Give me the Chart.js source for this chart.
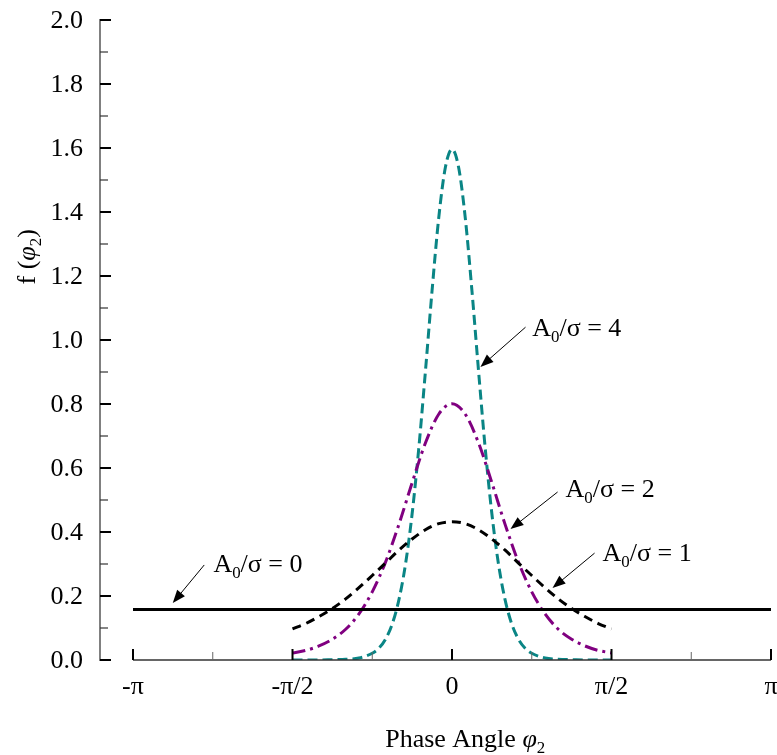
<!DOCTYPE html>
<html>
<head>
<meta charset="utf-8">
<script src="https://cdn.jsdelivr.net/npm/chart.js@4.4.1/dist/chart.umd.min.js"></script>
<style>
	body { margin: 0; background: #fff; }
	#wrap { width: 777px; height: 755px; }
</style>
</head>
<body>
<div id="wrap"><canvas id="phaseChart" width="777" height="755"></canvas></div>
<script>

	/* ================= Data ================= */

	// phase positions in units of pi/24
	var phaseSteps = [-12, -11, -10, -9, -8, -7, -6, -5, -4, -3, -2, -1, 0, 1, 2, 3, 4, 5, 6, 7, 8, 9, 10, 11, 12];
	var phaseStepsFine = [-12, -11, -10, -9, -8, -7, -6, -5.5, -5, -4.5, -4, -3.5, -3, -2.5, -2, -1.5, -1, -0.5, 0,
		0.5, 1, 1.5, 2, 2.5, 3, 3.5, 4, 4.5, 5, 5.5, 6, 7, 8, 9, 10, 11, 12];

	var flatX = [-24, 24];
	var flatY = [0.158, 0.158];

	var ratio1Y = [0.097, 0.114, 0.136, 0.161, 0.191, 0.226, 0.264, 0.303, 0.343, 0.378, 0.407, 0.426, 0.432,
		0.426, 0.407, 0.378, 0.343, 0.303, 0.264, 0.226, 0.191, 0.161, 0.136, 0.114, 0.097];

	var ratio2Y = [0.022, 0.030, 0.044, 0.065, 0.096, 0.144, 0.213, 0.306, 0.423, 0.554, 0.678, 0.768, 0.801,
		0.768, 0.678, 0.554, 0.423, 0.306, 0.213, 0.144, 0.096, 0.065, 0.044, 0.030, 0.022];

	var ratio4Y = [0.000, 0.000, 0.000, 0.001, 0.002, 0.006, 0.021, 0.037, 0.065, 0.112, 0.187, 0.299, 0.457, 0.661,
		0.902, 1.154, 1.381, 1.539, 1.596, 1.539, 1.381, 1.154, 0.902, 0.661, 0.457, 0.299, 0.187, 0.112, 0.065,
		0.037, 0.021, 0.006, 0.002, 0.001, 0.000, 0.000, 0.000];

	// axis ticks (x in units of pi)
	var xTickValues = [-1, -0.5, 0, 0.5, 1];
	var xTickLabels = ['-π', '-π/2', '0', 'π/2', 'π'];
	var xMinorValues = [-0.75, -0.25, 0.25, 0.75];
	var yTickValues = [0, 0.2, 0.4, 0.6, 0.8, 1.0, 1.2, 1.4, 1.6, 1.8, 2.0];
	var yMinorValues = [0.1, 0.3, 0.5, 0.7, 0.9, 1.1, 1.3, 1.5, 1.7, 1.9];

	var seriesLabels = ['0', '1', '2', '4'];

	/* ================= Helpers ================= */

	var FONT = '"Liberation Serif", "Times New Roman", serif';

	function toPoints(steps, ys) {
		return steps.map(function(s, i) {
			return { x: s * Math.PI / 24, y: ys[i] };
		});
	}

	// draw text made of parts, some of them subscript
	function richWidth(ctx, parts, size) {
		var w = 0;
		parts.forEach(function(p) {
			ctx.font = (p.italic ? 'italic ' : '') + (p.sub ? size * 0.65 : size) + 'px ' + FONT;
			w += ctx.measureText(p.t).width;
		});
		return w;
	}

	function drawRich(ctx, parts, x, y, size) {
		ctx.textAlign = 'left';
		ctx.textBaseline = 'alphabetic';
		parts.forEach(function(p) {
			ctx.font = (p.italic ? 'italic ' : '') + (p.sub ? size * 0.65 : size) + 'px ' + FONT;
			ctx.fillText(p.t, x, p.sub ? y + size * 0.22 : y);
			x += ctx.measureText(p.t).width;
		});
	}

	function drawArrow(ctx, x1, y1, x2, y2) {
		var ang = Math.atan2(y2 - y1, x2 - x1);
		var len = 13, half = 5;
		ctx.strokeStyle = '#000';
		ctx.lineWidth = 1;
		ctx.beginPath();
		ctx.moveTo(x1, y1);
		ctx.lineTo(x2 - Math.cos(ang) * len * 0.8, y2 - Math.sin(ang) * len * 0.8);
		ctx.stroke();
		ctx.fillStyle = '#000';
		ctx.beginPath();
		ctx.moveTo(x2, y2);
		ctx.lineTo(x2 - Math.cos(ang) * len - Math.sin(ang) * half, y2 - Math.sin(ang) * len + Math.cos(ang) * half);
		ctx.lineTo(x2 - Math.cos(ang) * len + Math.sin(ang) * half, y2 - Math.sin(ang) * len - Math.cos(ang) * half);
		ctx.closePath();
		ctx.fill();
	}

	// label positions in data space: text start, arrow start, arrow tip
	var notes = [
		{ text: [0.303, -2.35], from: [-2.44, 0.297], to: [-2.75, 0.178] },
		{ text: [0.3375, 1.483], from: [1.404, 0.334], to: [0.99, 0.225] },
		{ text: [0.5375, 1.118], from: [1.04, 0.525], to: [0.576, 0.409] },
		{ text: [1.04, 0.79], from: [0.724, 1.04], to: [0.28, 0.916] }
	];

	var axesPlugin = {
		id: 'phaseAxes',
		afterDraw: function(chart) {
			var ctx = chart.ctx;
			var xs = chart.scales.x, ys = chart.scales.y;
			var area = chart.chartArea;
			var size = 26;
			ctx.save();

			// y axis
			ctx.strokeStyle = '#808080';
			ctx.lineWidth = 2;
			ctx.beginPath();
			ctx.moveTo(area.left, ys.getPixelForValue(2.0) - 1);
			ctx.lineTo(area.left, ys.getPixelForValue(0) + 1);
			ctx.stroke();
			ctx.strokeStyle = '#000';
			yTickValues.forEach(function(v) {
				var py = ys.getPixelForValue(v);
				ctx.lineWidth = 2;
				ctx.beginPath();
				ctx.moveTo(area.left, py);
				ctx.lineTo(area.left + 11, py);
				ctx.stroke();
			});
			ctx.strokeStyle = '#333';
			yMinorValues.forEach(function(v) {
				var py = ys.getPixelForValue(v);
				ctx.lineWidth = 1.2;
				ctx.beginPath();
				ctx.moveTo(area.left, py);
				ctx.lineTo(area.left + 8, py);
				ctx.stroke();
			});
			ctx.fillStyle = '#000';
			ctx.font = size + 'px ' + FONT;
			ctx.textAlign = 'right';
			ctx.textBaseline = 'middle';
			yTickValues.forEach(function(v) {
				ctx.fillText(v.toFixed(1), area.left - 17, ys.getPixelForValue(v) + 1);
			});

			// x axis
			var x0 = xs.getPixelForValue(-Math.PI), x1 = xs.getPixelForValue(Math.PI);
			var by = ys.getPixelForValue(0);
			ctx.strokeStyle = '#333';
			ctx.lineWidth = 1.5;
			ctx.beginPath();
			ctx.moveTo(x0, by);
			ctx.lineTo(x1, by);
			ctx.stroke();
			ctx.strokeStyle = '#000';
			xTickValues.forEach(function(v) {
				var px = xs.getPixelForValue(v * Math.PI);
				ctx.lineWidth = 2;
				ctx.beginPath();
				ctx.moveTo(px, by);
				ctx.lineTo(px, by - 11);
				ctx.stroke();
			});
			ctx.strokeStyle = '#666';
			xMinorValues.forEach(function(v) {
				var px = xs.getPixelForValue(v * Math.PI);
				ctx.lineWidth = 1;
				ctx.beginPath();
				ctx.moveTo(px, by);
				ctx.lineTo(px, by - 8);
				ctx.stroke();
			});
			ctx.font = size + 'px ' + FONT;
			ctx.textAlign = 'center';
			ctx.textBaseline = 'middle';
			xTickValues.forEach(function(v, i) {
				ctx.fillText(xTickLabels[i], xs.getPixelForValue(v * Math.PI), by + 27);
			});

			// axis titles
			var xTitle = [{ t: 'Phase Angle ' }, { t: 'φ', italic: true }, { t: '2', sub: true }];
			var tw = richWidth(ctx, xTitle, size);
			drawRich(ctx, xTitle, xs.getPixelForValue(0.13) - tw / 2, by + 87, size);

			var yTitle = [{ t: 'f (' }, { t: 'φ', italic: true }, { t: '2', sub: true }, { t: ')' }];
			var yw = richWidth(ctx, yTitle, size);
			ctx.save();
			ctx.translate(35, ys.getPixelForValue(1.26));
			ctx.rotate(-Math.PI / 2);
			drawRich(ctx, yTitle, -yw / 2, 0, size);
			ctx.restore();

			// annotations
			notes.forEach(function(n, i) {
				var parts = [{ t: 'A' }, { t: '0', sub: true }, { t: '/σ = ' + seriesLabels[i] }];
				drawRich(ctx, parts, xs.getPixelForValue(n.text[1]), ys.getPixelForValue(n.text[0]) + 9, size);
				drawArrow(ctx, xs.getPixelForValue(n.from[0]), ys.getPixelForValue(n.from[1]),
					xs.getPixelForValue(n.to[0]), ys.getPixelForValue(n.to[1]));
			});

			ctx.restore();
		}
	};

	/* ================= Chart ================= */

	var ctx = document.getElementById('phaseChart');
	var phaseChart = new Chart(ctx, {
		type: 'line',
		data: {
			datasets: [{
				label: 'A0/σ = 0',
				data: toPoints(flatX, flatY),
				borderColor: '#000',
				borderWidth: 3
			}, {
				label: 'A0/σ = 1',
				data: toPoints(phaseSteps, ratio1Y),
				borderColor: '#000',
				borderWidth: 3,
				borderDash: [9, 6]
			}, {
				label: 'A0/σ = 2',
				data: toPoints(phaseSteps, ratio2Y),
				borderColor: '#800080',
				borderWidth: 3,
				borderDash: [13, 5, 3, 5]
			}, {
				label: 'A0/σ = 4',
				data: toPoints(phaseStepsFine, ratio4Y),
				borderColor: '#0a8585',
				borderWidth: 3,
				borderDash: [10, 5]
			}]
		},
		options: {
			responsive: false,
			animation: false,
			layout: { padding: { left: 100, right: 6, top: 20, bottom: 95 } },
			elements: {
				point: { radius: 0 },
				line: { cubicInterpolationMode: 'monotone', fill: false }
			},
			plugins: {
				legend: { display: false },
				tooltip: { enabled: false }
			},
			scales: {
				x: { type: 'linear', min: -Math.PI - 0.325, max: Math.PI, display: false },
				y: { min: 0, max: 2, display: false }
			}
		},
		plugins: [axesPlugin]
	});

</script>
</body>
</html>
